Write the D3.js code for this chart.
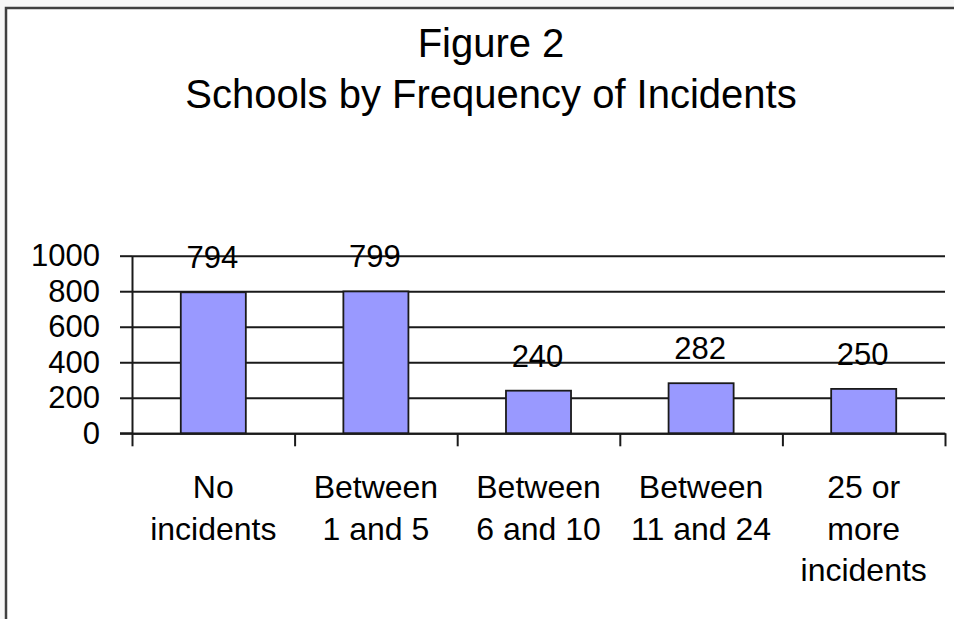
<!DOCTYPE html>
<html>
<head>
<meta charset="utf-8">
<script src="https://cdn.jsdelivr.net/npm/d3@7"></script>
<style>
  html, body { margin: 0; padding: 0; background: #f7f7f7; }
  svg { display: block; }
  text { font-family: "Liberation Sans", Arial, sans-serif; fill: #000; }
</style>
</head>
<body>
<div id="chart"></div>
<script>
// Chart data.
var titleLines = ['Figure 2', 'Schools by Frequency of Incidents'];

// Each category is split over the lines it is drawn on.
var categories = [
  ['No', 'incidents'],
  ['Between', '1 and 5'],
  ['Between', '6 and 10'],
  ['Between', '11 and 24'],
  ['25 or', 'more', 'incidents']
];

// Number of schools in each category.
var schools = [794, 799, 240, 282, 250];

// Value axis ticks.
var yTicks = [0, 200, 400, 600, 800, 1000];

// Namespace for drawing, fig for Figure.
var fig = {

  WIDTH: 954,
  HEIGHT: 619,

  // Plot area edges.
  LEFT: 132,
  RIGHT: 945,
  TOP: 255.7,
  BOTTOM: 433.3,

  BAR_FILL: '#9999ff',
  LINE_COLOR: '#1a1a1a',

  /**
   * Draw the whole figure.
   */
  init: function() {
    var svg = d3.select('#chart').append('svg')
      .attr('width', fig.WIDTH)
      .attr('height', fig.HEIGHT);

    // Chart area frame, cut off at the right and bottom like the picture.
    svg.append('rect')
      .attr('x', 6).attr('y', 8)
      .attr('width', fig.WIDTH + 20).attr('height', fig.HEIGHT + 20)
      .attr('fill', '#fff')
      .attr('stroke', '#404040')
      .attr('stroke-width', 2.5);

    var x = d3.scaleBand()
      .domain(d3.range(categories.length))
      .range([fig.LEFT, fig.RIGHT])
      .paddingInner(0.6)
      .paddingOuter(0.3);

    var y = d3.scaleLinear()
      .domain([0, 1000])
      .range([fig.BOTTOM, fig.TOP]);

    fig.drawTitle(svg);
    fig.drawGrid(svg, y);
    fig.drawBars(svg, x, y);
    fig.drawAxes(svg, x, y);
  },

  /**
   * Two centred title lines.
   */
  drawTitle: function(svg) {
    svg.append('g').selectAll('text')
      .data(titleLines)
      .join('text')
      .attr('x', 491)
      .attr('y', function(d, i) { return 57 + i * 51; })
      .attr('text-anchor', 'middle')
      .attr('font-size', 40)
      .text(function(d) { return d; });
  },

  /**
   * Horizontal gridlines at each value tick.
   */
  drawGrid: function(svg, y) {
    svg.append('g')
      .attr('transform', 'translate(' + fig.LEFT + ',0)')
      .call(d3.axisLeft(y)
        .tickValues(yTicks)
        .tickSize(-(fig.RIGHT - fig.LEFT))
        .tickFormat(''))
      .call(function(g) {
        g.select('.domain').remove();
        g.selectAll('line')
          .attr('stroke', fig.LINE_COLOR)
          .attr('stroke-width', 2);
      });
  },

  /**
   * Bars and their value labels.
   */
  drawBars: function(svg, x, y) {
    var g = svg.append('g');

    g.selectAll('rect')
      .data(schools)
      .join('rect')
      .attr('x', function(d, i) { return x(i); })
      .attr('y', function(d) { return y(d); })
      .attr('width', x.bandwidth())
      .attr('height', function(d) { return y(0) - y(d); })
      .attr('fill', fig.BAR_FILL)
      .attr('stroke', fig.LINE_COLOR)
      .attr('stroke-width', 1.8);

    g.selectAll('text')
      .data(schools)
      .join('text')
      .attr('x', function(d, i) { return x(i) + x.bandwidth() / 2 - 1; })
      .attr('y', function(d) { return y(d) - 24; })
      .attr('text-anchor', 'middle')
      .attr('font-size', 31)
      .attr('fill', '#222')
      .text(function(d) { return d; });
  },

  /**
   * Value axis with labels, category axis with ticks between bars.
   */
  drawAxes: function(svg, x, y) {
    // Value axis.
    svg.append('g')
      .attr('transform', 'translate(' + fig.LEFT + ',0)')
      .call(d3.axisLeft(y)
        .tickValues(yTicks)
        .tickSize(12)
        .tickSizeOuter(0)
        .tickPadding(20)
        .tickFormat(d3.format('d')))
      .call(function(g) {
        g.selectAll('line, path')
          .attr('stroke', fig.LINE_COLOR)
          .attr('stroke-width', 2);
        g.selectAll('text')
          .attr('font-family', '"Liberation Sans", Arial, sans-serif')
          .attr('font-size', 31)
          .attr('fill', '#222');
      });

    // Category axis: ticks sit on band edges, labels are drawn by hand
    // because they wrap onto several lines.
    var edges = x.domain().map(function(i) { return x(i) - x.step() * x.paddingOuter(); });
    edges.push(fig.RIGHT);
    var edgeScale = d3.scaleLinear().domain([fig.LEFT, fig.RIGHT]).range([fig.LEFT, fig.RIGHT]);

    svg.append('g')
      .attr('transform', 'translate(0,' + fig.BOTTOM + ')')
      .call(d3.axisBottom(edgeScale)
        .tickValues(edges)
        .tickSize(13)
        .tickSizeOuter(0)
        .tickFormat(''))
      .call(function(g) {
        g.selectAll('line, path')
          .attr('stroke', fig.LINE_COLOR)
          .attr('stroke-width', 2);
      });

    // Horizontal stub of the axis left of the value axis.
    svg.append('line')
      .attr('x1', fig.LEFT - 12).attr('x2', fig.LEFT)
      .attr('y1', fig.BOTTOM).attr('y2', fig.BOTTOM)
      .attr('stroke', fig.LINE_COLOR)
      .attr('stroke-width', 2);

    var labels = svg.append('g').selectAll('text')
      .data(categories)
      .join('text')
      .attr('text-anchor', 'middle')
      .attr('font-size', 32)
      .attr('fill', '#222');

    labels.selectAll('tspan')
      .data(function(d, i) {
        return d.map(function(line) { return { line: line, i: i }; });
      })
      .join('tspan')
      .attr('x', function(d) { return x(d.i) + x.bandwidth() / 2; })
      .attr('y', function(d, j) { return 498 + j * 41.5; })
      .text(function(d) { return d.line; });
  }
};

// Draw it.
fig.init();
</script>
</body>
</html>
